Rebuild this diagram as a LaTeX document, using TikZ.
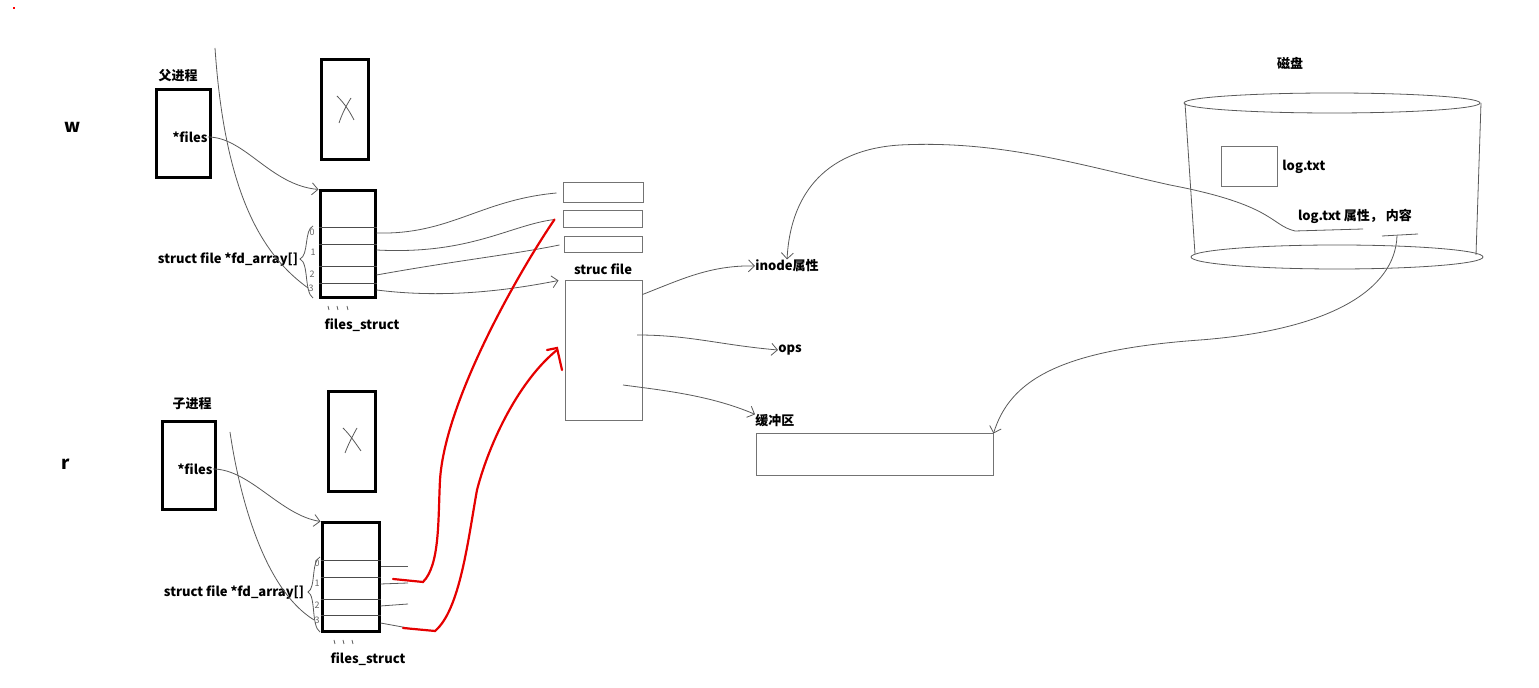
\documentclass[tikz,border=0pt]{standalone}
\usepackage{fontspec}
\setmainfont{Noto Sans CJK SC}
\usetikzlibrary{arrows.meta}
\tikzset{
  thickbox/.style={draw=black, line width=1.5pt, inner sep=0pt},
  thinbox/.style={draw=black!55, line width=0.5pt, inner sep=0pt},
  lbl/.style={inner sep=0pt, font=\bfseries\fontsize{6.5}{7}\selectfont},
  tiny/.style={inner sep=0pt, text=black!60, font=\fontsize{4.5}{5}\selectfont},
  pen/.style={draw=black!65, line width=0.4pt},
  redpen/.style={draw=red!90!black, line width=1.1pt, line cap=round},
  tip/.style={-{Straight Barb[length=3pt,width=6pt]}}
}
\begin{document}
\begin{tikzpicture}[x=0.5pt,y=-0.5pt]
\useasboundingbox (0,0) rectangle (1539,688);
\fill[red] (13,7) rectangle (15,9);
\node[lbl, font=\bfseries\fontsize{9}{10}\selectfont] (wlbl) at (73,127) {w};
\node[lbl, font=\bfseries\fontsize{9}{10}\selectfont] (rlbl) at (66,464) {r};
% parent process
\node[lbl] (ptitle) at (178,76) {父进程};
\node[thickbox, minimum width=27pt, minimum height=44pt] (parent) at (183,134) {};
\node[lbl] (pfiles) at (190,137) {*files};
\node[thickbox, minimum width=23.5pt, minimum height=50pt] (pxbox) at (344.5,110) {};
\draw[pen] (337,96) .. controls (345,104) and (350,112) .. (354,120);
\draw[pen] (351,98) .. controls (346,106) and (342,114) .. (339,123);
\node[thickbox, minimum width=27.5pt, minimum height=53.5pt] (pfs) at (347.5,244.5) {};
\foreach \y in {227,244,266,283} \draw[black!70] (pfs.west |- 0,\y) -- (pfs.east |- 0,\y);
\node[lbl] (parray) at (228,260) {struct file *fd\_array[]};
\node[lbl] (pfslbl) at (362,325) {files\_struct};
\node[tiny] (p0) at (312,232) {0};
\node[tiny] (p1) at (313,252) {1};
\node[tiny] (p2) at (312,274) {2};
\node[tiny] (p3) at (311,288) {3};
\draw[pen] (313,226) .. controls (304,230) and (309,255) .. (300,259) .. controls (309,263) and (304,292) .. (313,298);
\foreach \x in {328,337,347} \draw[pen] (\x,306) -- (\x+1,310);
% child process
\node[lbl] (ctitle) at (192,404) {子进程};
\node[thickbox, minimum width=26.5pt, minimum height=44pt] (child) at (188.5,466) {};
\node[lbl] (cfiles) at (195,469) {*files};
\node[thickbox, minimum width=23.5pt, minimum height=50pt] (cxbox) at (351.5,442) {};
\draw[pen] (343,428) .. controls (351,436) and (356,444) .. (361,451);
\draw[pen] (357,428) .. controls (352,437) and (348,445) .. (345,453);
\node[thickbox, minimum width=28.5pt, minimum height=54.5pt] (cfs) at (350.5,577.5) {};
\foreach \y in {560,577,599,615} \draw[black!70] (cfs.west |- 0,\y) -- (cfs.east |- 0,\y);
\node[lbl] (carray) at (234,593) {struct file *fd\_array[]};
\node[lbl] (cfslbl) at (368,659) {files\_struct};
\node[tiny] (c0) at (317,563) {0};
\node[tiny] (c1) at (317,583) {1};
\node[tiny] (c2) at (317,605) {2};
\node[tiny] (c3) at (317,620) {3};
\draw[pen] (320,557) .. controls (311,561) and (316,588) .. (308,592) .. controls (316,596) and (311,626) .. (320,632);
\foreach \x in {334,343,352} \draw[pen] (\x,640) -- (\x+1,644);
% struct file
\node[thinbox, minimum width=40pt, minimum height=10pt] (f1) at (603,193) {};
\node[thinbox, minimum width=39.5pt, minimum height=8.5pt] (f2) at (602.5,219.5) {};
\node[thinbox, minimum width=39pt, minimum height=8pt] (f3) at (603,245) {};
\node[lbl] (sflbl) at (603,269) {struc file};
\node[thinbox, minimum width=38.5pt, minimum height=70pt] (sfile) at (603.5,351) {};
\node[lbl, anchor=west] (inode) at (755,266) {inode属性};
\node[lbl, anchor=west] (ops) at (778,350) {ops};
\node[lbl, anchor=west] (buflbl) at (755,421) {缓冲区};
\node[thinbox, minimum width=118.5pt, minimum height=21pt] (buf) at (874.5,455) {};
% disk
\node[lbl] (disk) at (1290,63) {磁盘};
\draw[pen] (1332,103) ellipse [x radius=148, y radius=10];
\draw[pen] (1337,257) ellipse [x radius=146, y radius=12];
\draw[pen] (1185,103) -- (1195,254);
\draw[pen] (1481,103) -- (1476,255);
\node[thinbox, minimum width=28pt, minimum height=20pt] (logbox) at (1249,167) {};
\node[lbl, anchor=west] (loglbl) at (1282,167) {log.txt};
\node[lbl] (logattr) at (1355,216) {log.txt 属性， 内容};
% connectors
\coordinate (ptop) at (215,48);
\coordinate (ctop) at (230,432);
\draw[pen] (ptop) .. controls (224,180) and (255,250) .. (p3.west);
\draw[pen] (ctop) .. controls (240,500) and (265,590) .. (c3.west);
\draw[pen, tip] (pfiles.east) .. controls (245,137) and (270,185) .. (pfs.north west);
\draw[pen, tip] (cfiles.east) .. controls (250,469) and (280,515) .. (cfs.north west);
\draw[pen] (pfs.east |- 0,233) .. controls (450,235) and (480,200) .. ([xshift=-3pt]f1.west);
\draw[pen] (pfs.east |- 0,250) .. controls (470,255) and (510,225) .. ([xshift=-4pt]f2.west);
\draw[pen] (pfs.east |- 0,275) .. controls (460,260) and (510,255) .. ([xshift=-2pt]f3.west);
\draw[pen, tip] (pfs.east |- 0,290) .. controls (440,298) and (500,292) .. ([xshift=-3pt]sfile.north west);
\foreach \a/\b in {566/566,584/583,606/604,623/628} \draw[pen] (cfs.east |- 0,\a) -- (408,\b);
\draw[redpen] (393,579) -- (423,582) .. controls (440,565) and (438,520) .. (440,480) .. controls (445,400) and (520,270) .. ([xshift=-4pt]f2.west);
\draw[redpen] (403,628) -- (435,631) .. controls (460,610) and (468,540) .. (477,490) .. controls (490,440) and (520,380) .. (557,350);
\draw[redpen] (547,350) -- (557,348) -- (562,370);
\draw[pen, tip] ([yshift=-7pt]sfile.north east) .. controls (680,280) and (710,265) .. (inode.west);
\draw[pen, tip] (637,335) .. controls (690,335) and (720,345) .. (ops.west);
\draw[pen, tip] (623,385) .. controls (660,390) and (710,395) .. (buflbl.north west);
\coordinate (attrline) at (1363,229);
\coordinate (contline) at (1397,236);
\draw[pen] (1382,236) -- (1418,234);
\draw[pen, tip] (attrline) -- (1295,231) .. controls (1270,225) and (1275,205) .. (1170,185) .. controls (1080,165) and (1000,140) .. (900,145) .. controls (820,150) and (790,200) .. (inode.north);
\draw[pen, tip] (contline) .. controls (1395,290) and (1330,330) .. (1200,340) .. controls (1060,350) and (1010,380) .. (buf.north east);
\end{tikzpicture}
\end{document}
